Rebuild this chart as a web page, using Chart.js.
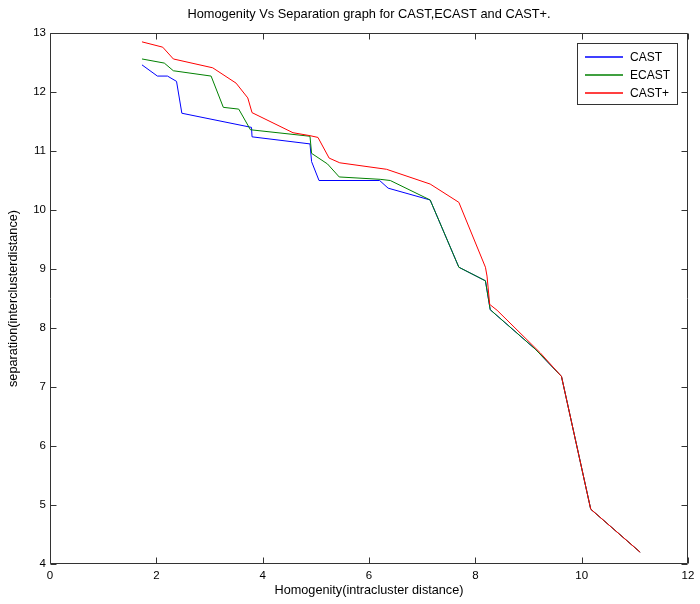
<!DOCTYPE html>
<html>
<head>
<meta charset="utf-8">
<script src="https://cdn.jsdelivr.net/npm/chart.js@4.4.0/dist/chart.umd.min.js"></script>
<style>
body{margin:0;background:#fff}
#box{width:700px;height:604px}
</style>
</head>
<body>
<div id="box"><canvas id="homChart"></canvas></div>
<script>
// values
var castX  = [1.73, 2.02, 2.21, 2.38, 2.48, 3.79, 3.80, 4.89, 4.92, 5.06, 6.20, 6.36, 7.15, 7.69, 8.19, 8.28, 9.13, 9.62, 10.17, 11.10];
var castY  = [12.46, 12.27, 12.27, 12.18, 11.64, 11.40, 11.24, 11.12, 10.82, 10.50, 10.50, 10.37, 10.17, 9.03, 8.80, 8.31, 7.64, 7.18, 4.93, 4.20];
var ecastX = [1.73, 2.15, 2.32, 3.03, 3.26, 3.55, 3.77, 4.89, 4.92, 5.22, 5.44, 6.21, 6.40, 7.15, 7.69, 8.19, 8.28, 9.13, 9.62, 10.17, 11.10];
var ecastY = [12.56, 12.49, 12.36, 12.27, 11.74, 11.71, 11.36, 11.25, 10.96, 10.78, 10.56, 10.52, 10.50, 10.17, 9.03, 8.80, 8.31, 7.64, 7.18, 4.93, 4.20];
var plusX  = [1.73, 2.12, 2.32, 3.06, 3.50, 3.72, 3.80, 4.57, 4.89, 5.04, 5.25, 5.45, 6.33, 7.15, 7.69, 8.19, 8.22, 8.27, 8.41, 9.22, 9.62, 10.17, 11.10];
var plusY  = [12.85, 12.76, 12.56, 12.41, 12.15, 11.90, 11.65, 11.31, 11.26, 11.23, 10.88, 10.80, 10.69, 10.44, 10.13, 9.03, 8.88, 8.40, 8.30, 7.58, 7.18, 4.93, 4.20];

var seriesNames = ["CAST", "ECAST", "CAST+"];
var seriesColors = ["#0000ff", "#008000", "#ff0000"];
var titleText = "Homogenity Vs Separation graph for CAST,ECAST and CAST+.";

function pts(xs, ys) {
  return xs.map(function (x, i) { return {x: x, y: ys[i]}; });
}

var FONT = '"Liberation Sans", Arial, sans-serif';

// MATLAB style box, inward ticks, title and legend
var boxPlugin = {
  id: 'boxPlugin',
  afterDraw: function (chart) {
    var ctx = chart.ctx, a = chart.chartArea;
    var sx = chart.scales.x, sy = chart.scales.y;
    var L = a.left + 0.5, R = a.right - 0.5, T = a.top + 0.5, B = a.bottom - 0.5;
    ctx.save();
    ctx.strokeStyle = '#333';
    ctx.lineWidth = 1;
    ctx.beginPath();
    ctx.rect(L, T, R - L, B - T);
    sx.ticks.forEach(function (t) {
      var p = Math.round(sx.getPixelForValue(t.value)) + 0.5;
      ctx.moveTo(p, B); ctx.lineTo(p, B - 6);
      ctx.moveTo(p, T); ctx.lineTo(p, T + 6);
    });
    sy.ticks.forEach(function (t) {
      var p = Math.round(sy.getPixelForValue(t.value)) + 0.5;
      ctx.moveTo(L, p); ctx.lineTo(L + 6, p);
      ctx.moveTo(R, p); ctx.lineTo(R - 6, p);
    });
    ctx.stroke();

    ctx.fillStyle = '#000';
    ctx.font = '12.8px ' + FONT;
    ctx.textAlign = 'center';
    ctx.textBaseline = 'middle';
    ctx.fillText(titleText, (a.left + a.right) / 2, 14);

    // legend
    var x0 = a.right - 111, y0 = a.top + 10;
    ctx.fillStyle = '#fff';
    ctx.fillRect(x0 + 0.5, y0 + 0.5, 100, 61);
    ctx.strokeStyle = '#333';
    ctx.strokeRect(x0 + 0.5, y0 + 0.5, 100, 61);
    ctx.font = '12px ' + FONT;
    ctx.textAlign = 'left';
    for (var i = 0; i < seriesNames.length; i++) {
      var y = y0 + 14 + i * 18;
      ctx.strokeStyle = seriesColors[i];
      ctx.lineWidth = 1.3;
      ctx.beginPath();
      ctx.moveTo(x0 + 8, y); ctx.lineTo(x0 + 46, y);
      ctx.stroke();
      ctx.fillStyle = '#000';
      ctx.fillText(seriesNames[i], x0 + 53, y + 0.5);
    }
    ctx.restore();
  }
};

var ctxH = document.getElementById("homChart").getContext('2d');
var homChart = new Chart(ctxH, {
  type: 'scatter',
  data: {
    datasets: [
      {label: seriesNames[0], data: pts(castX, castY), borderColor: seriesColors[0], order: 2},
      {label: seriesNames[1], data: pts(ecastX, ecastY), borderColor: seriesColors[1], order: 1},
      {label: seriesNames[2], data: pts(plusX, plusY), borderColor: seriesColors[2], order: 0}
    ].map(function (d) {
      d.showLine = true; d.borderWidth = 1; d.pointRadius = 0; d.fill = false;
      return d;
    })
  },
  options: {
    responsive: true,
    maintainAspectRatio: false,
    animation: false,
    layout: {padding: {top: 33, right: 12, left: 0, bottom: 0}},
    plugins: {legend: {display: false}, title: {display: false}, tooltip: {enabled: false}},
    scales: {
      x: {
        type: 'linear', min: 0, max: 12,
        grid: {display: false, drawTicks: false},
        border: {display: false},
        ticks: {stepSize: 2, color: '#000', padding: 5, font: {family: FONT, size: 11.5}},
        title: {display: true, text: 'Homogenity(intracluster distance)', color: '#000',
                font: {family: FONT, size: 12.7}, padding: {top: 0, bottom: 6}},
        afterFit: function (s) { s.height = 40; }
      },
      y: {
        type: 'linear', min: 4, max: 13,
        grid: {display: false, drawTicks: false},
        border: {display: false},
        ticks: {stepSize: 1, color: '#000', padding: 4, font: {family: FONT, size: 11.5}},
        title: {display: true, text: 'separation(interclusterdistance)', color: '#000',
                font: {family: FONT, size: 12.7}, padding: {top: 6, bottom: 0}},
        afterFit: function (s) { s.width = 50; }
      }
    }
  },
  plugins: [boxPlugin]
});
</script>
</body>
</html>
